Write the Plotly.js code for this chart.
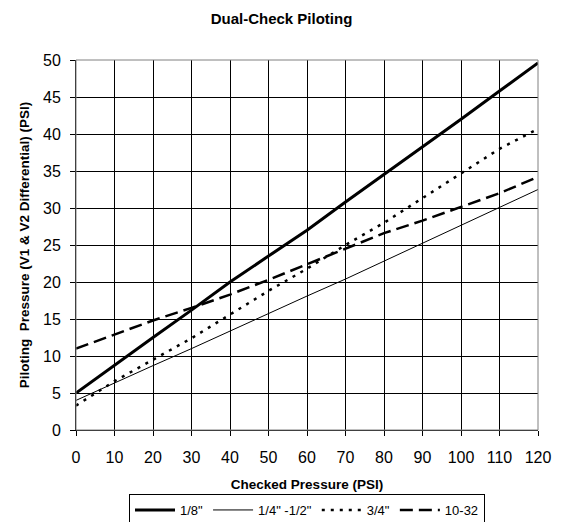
<!DOCTYPE html>
<html><head><meta charset="utf-8">
<script src="https://cdn.plot.ly/plotly-3.0.1.min.js"></script>
<style>html,body{margin:0;padding:0;background:#fff}#chart{width:563px;height:522px}</style>
</head><body><div id="chart"></div>
<script>
const checked = [0,10,20,30,40,50,60,70,80,90,100,110,120];
const s18 = [5,8.8,12.5,16.2,20,23.5,27,30.8,34.5,38.2,42,45.8,49.6];
const s14_12 = [4,6.4,8.7,11,13.4,15.7,18.1,20.4,22.8,25.2,27.6,30.1,32.5];
const s34 = [3.3,6.6,9.5,12.4,15.6,18.8,21.8,25,28,31.3,34.6,38,40.7];
const s1032 = [11,12.9,14.8,16.5,18.3,20.3,22.4,24.5,26.6,28.3,30.1,32,34.2];
const names = ['1/8"','1/4" -1/2"','3/4"','10-32'];

const traces = [
  {x:checked,y:s18,name:names[0],mode:'lines',line:{color:'#000',width:3}},
  {x:checked,y:s14_12,name:names[1],mode:'lines',line:{color:'#000',width:1}},
  {x:checked,y:s34,name:names[2],mode:'lines',line:{color:'#000',width:2.5,dash:'3px,6px'}},
  {x:checked,y:s1032,name:names[3],mode:'lines',line:{color:'#000',width:2.5,dash:'13px,6px'}}
];
const font = {family:'Liberation Sans, Arial, sans-serif',color:'#000'};
const layout = {
  width:563,height:522,
  margin:{l:76,r:25,t:60,b:92,autoexpand:false},
  paper_bgcolor:'#fff',plot_bgcolor:'#fff',
  font:Object.assign({size:14},font),
  title:{text:'<b>Dual-Check Piloting</b>',x:0.5,xref:'container',y:1-19/522,yref:'container',yanchor:'middle',font:Object.assign({},font,{size:15})},
  xaxis:{range:[0,120],dtick:10,tick0:0,showgrid:true,gridcolor:'#000',gridwidth:1,automargin:false,
    showline:true,linecolor:'#000',linewidth:1,ticks:'outside',ticklen:5,tickcolor:'#000',zeroline:false,
    ticklabelstandoff:8,
    tickfont:Object.assign({},font,{size:16}),
    title:{text:'<b>Checked Pressure (PSI)</b>',font:Object.assign({},font,{size:13.5}),standoff:14}},
  yaxis:{range:[0,50],dtick:5,tick0:0,showgrid:true,gridcolor:'#000',gridwidth:1,automargin:false,
    showline:true,linecolor:'#000',linewidth:1,ticks:'outside',ticklen:5,tickcolor:'#000',zeroline:false,
    ticklabelstandoff:6,
    tickfont:Object.assign({},font,{size:16}),
    title:{text:'<b>Piloting  Pressure (V1 &amp; V2 Differential) (PSI)</b>',font:Object.assign({},font,{size:13.5}),standoff:10}},
  shapes:[{type:'rect',xref:'paper',yref:'paper',x0:0,x1:1,y0:0,y1:1,line:{color:'#808080',width:1}}],
  legend:{orientation:'h',x:0.5,xref:'paper',xanchor:'center',y:1-494/522,yref:'container',yanchor:'top',
    bordercolor:'#000',borderwidth:1,bgcolor:'#fff',font:Object.assign({},font,{size:13}),
    itemwidth:40,tracegroupgap:0}
};
Plotly.newPlot('chart',traces,layout,{displayModeBar:false,staticPlot:true});
</script></body></html>
